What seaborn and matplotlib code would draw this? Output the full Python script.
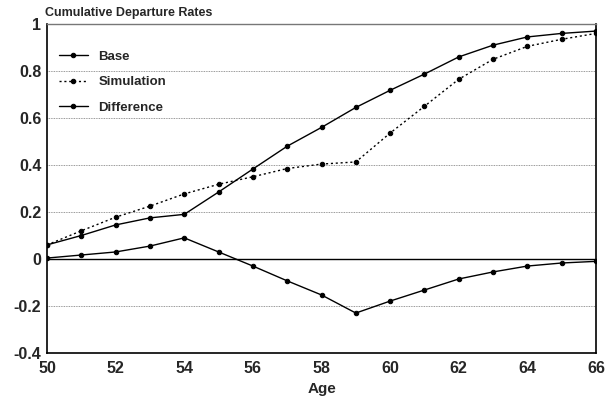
import numpy as np
import pandas as pd
import matplotlib.pyplot as plt
import seaborn as sns

age = list(range(50, 67))
base = [0.06, 0.10, 0.145, 0.175, 0.19, 0.285, 0.383, 0.48, 0.56, 0.645,
        0.718, 0.787, 0.86, 0.91, 0.945, 0.96, 0.97]
simulation = [0.06, 0.12, 0.178, 0.225, 0.277, 0.318, 0.35, 0.385, 0.404, 0.413,
              0.536, 0.65, 0.765, 0.85, 0.905, 0.935, 0.96]
difference = [0.004, 0.017, 0.03, 0.055, 0.09, 0.03, -0.03, -0.093, -0.153, -0.23,
              -0.179, -0.132, -0.085, -0.055, -0.03, -0.017, -0.01]

df = pd.DataFrame({'Age': age * 3,
                   'Rate': base + simulation + difference,
                   'Series': ['Base'] * 17 + ['Simulation'] * 17 + ['Difference'] * 17})

sns.set_theme(style="white")
plt.rcParams['font.family'] = ['Liberation Sans', 'DejaVu Sans']
plt.rcParams['font.weight'] = 'bold'

fig = plt.figure(figsize=(6.06, 4.05), dpi=100)
ax = fig.add_axes([0.0776, 0.1284, 0.9059, 0.8123])

styles = {'Base': '-', 'Simulation': (0, (1.5, 2)), 'Difference': '-'}
for name in ['Base', 'Simulation', 'Difference']:
    sub = df[df['Series'] == name]
    sns.lineplot(data=sub, x='Age', y='Rate', ax=ax, color='black', lw=1.0,
                 linestyle=styles[name], marker='o', markersize=3.2,
                 markeredgecolor='black', label=name)

# grid lines
for yv in [0.2, 0.4, 0.6, 0.8, -0.2]:
    ax.axhline(yv, color='#777777', lw=0.6, linestyle=(0, (1, 1)), zorder=0)
ax.axhline(0, color='black', lw=1.0, zorder=1)

ax.set_xlim(50, 66)
ax.set_ylim(-0.4, 1.0)
ax.set_xticks(range(50, 67, 2))
ax.set_yticks([-0.4, -0.2, 0, 0.2, 0.4, 0.6, 0.8, 1])
ax.set_yticklabels(['-0.4', '-0.2', '0', '0.2', '0.4', '0.6', '0.8', '1'])
ax.tick_params(axis='x', direction='in', length=5, width=1, labelsize=11.5, pad=6)
ax.tick_params(axis='y', direction='out', length=2, width=1, labelsize=11.5, pad=2)
for lab in ax.get_xticklabels() + ax.get_yticklabels():
    lab.set_fontweight('bold')

for s in ['left', 'bottom', 'right']:
    ax.spines[s].set_color('black')
    ax.spines[s].set_linewidth(1.2)
ax.spines['top'].set_color('#777777')
ax.spines['top'].set_linewidth(1.0)

ax.set_xlabel('Age', fontsize=11, fontweight='bold', labelpad=4)
ax.set_ylabel('')
fig.text(0.074, 0.968, 'Cumulative Departure Rates', fontsize=9,
         fontweight='bold', ha='left', va='center')

leg = ax.legend(loc='upper left', bbox_to_anchor=(0.0, 0.955), frameon=False,
                fontsize=9.5, handlelength=2.2, labelspacing=1.0, handletextpad=0.8)
for t in leg.get_texts():
    t.set_fontweight('bold')

fig.savefig('out.png', dpi=100)
